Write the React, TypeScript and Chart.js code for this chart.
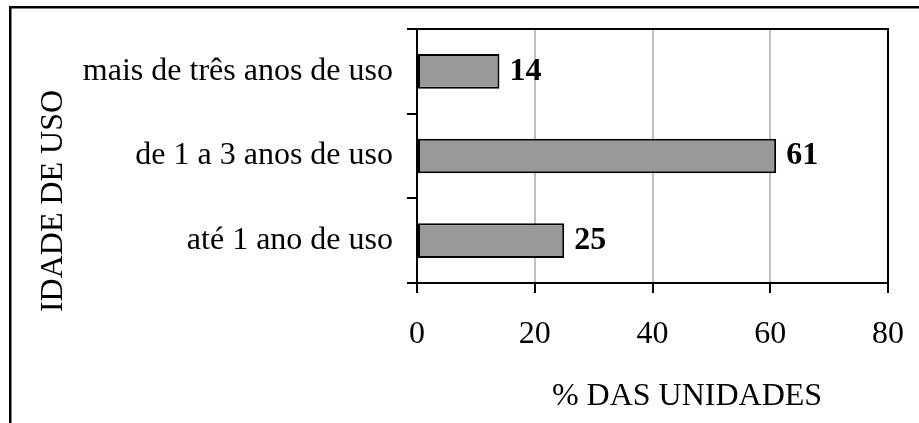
import React, { useEffect, useRef } from "react";
import { Chart, registerables } from "chart.js";

Chart.register(...registerables);

const categories: string[] = ["mais de três anos de uso", "de 1 a 3 anos de uso", "até 1 ano de uso"];
const values: number[] = [14, 61, 25];
const xTicks: number[] = [0, 20, 40, 60, 80];
const xTitle = "% DAS UNIDADES";
const yTitle = "IDADE DE USO";

const FONT = "'Liberation Serif', 'Times New Roman', serif";
const FS = 32;

const framePlugin = {
  id: "frame",
  beforeDraw(chart: any) {
    const ctx = chart.ctx;
    ctx.save();
    ctx.fillStyle = "#fff";
    ctx.fillRect(0, 0, chart.width, chart.height);
    ctx.fillStyle = "#000";
    ctx.fillRect(9, 6, chart.width - 9, 2.5);
    ctx.fillRect(9, 6, 2.5, chart.height - 6);
    ctx.restore();
  },
  afterDraw(chart: any) {
    const { ctx, chartArea } = chart;
    ctx.save();
    ctx.strokeStyle = "#000";
    ctx.lineWidth = 2;
    ctx.beginPath();
    ctx.moveTo(chartArea.left, chartArea.top);
    ctx.lineTo(chartArea.right, chartArea.top);
    ctx.lineTo(chartArea.right, chartArea.bottom);
    ctx.stroke();
    // axis titles
    ctx.fillStyle = "#000";
    ctx.font = `${FS}px ${FONT}`;
    ctx.textBaseline = "alphabetic";
    ctx.textAlign = "center";
    ctx.fillText(xTitle, 687, 405);
    ctx.translate(62, 201);
    ctx.rotate(-Math.PI / 2);
    ctx.fillText(yTitle, 0, 0);
    ctx.restore();
  },
};

const valueLabelPlugin = {
  id: "valueLabels",
  afterDatasetsDraw(chart: any) {
    const ctx = chart.ctx;
    const meta = chart.getDatasetMeta(0);
    ctx.save();
    ctx.fillStyle = "#000";
    ctx.font = `bold ${FS}px ${FONT}`;
    ctx.textAlign = "left";
    ctx.textBaseline = "middle";
    meta.data.forEach((el: any, i: number) => {
      ctx.fillText(String(chart.data.datasets[0].data[i]), el.x + 10, el.y);
    });
    ctx.restore();
  },
};

function zeroPad(scale: any) {
  scale.paddingLeft = 0;
  scale.paddingRight = 0;
  scale.paddingTop = 0;
  scale.paddingBottom = 0;
}

export default function App() {
  const ref = useRef<HTMLCanvasElement | null>(null);
  useEffect(() => {
    document.body.style.margin = "0";
    if (!ref.current) return;
    const chart = new Chart(ref.current, {
      type: "bar",
      data: {
        labels: categories,
        datasets: [
          {
            data: values,
            backgroundColor: "#999999",
            borderColor: "#000000",
            borderWidth: 2,
            borderSkipped: false,
            categoryPercentage: 1,
            barPercentage: 0.41,
          },
        ],
      },
      options: {
        indexAxis: "y",
        animation: false,
        responsive: false,
        devicePixelRatio: 1,
        layout: { padding: { left: 10, right: 31, top: 29, bottom: 0 } },
        plugins: { legend: { display: false }, tooltip: { enabled: false } },
        scales: {
          x: {
            min: 0,
            max: 80,
            afterFit(scale: any) {
              scale.height = 140;
              zeroPad(scale);
            },
            afterBuildTicks(scale: any) {
              scale.ticks = xTicks.map((v) => ({ value: v }));
            },
            ticks: {
              stepSize: 20,
              color: "#000",
              padding: 22,
              font: { family: FONT, size: FS },
            },
            grid: {
              color: "#c0c0c0",
              lineWidth: 2,
              tickColor: "#000",
              tickWidth: 2,
              tickLength: 10,
            },
            border: { color: "#000", width: 2 },
            title: { display: false },
          },
          y: {
            afterFit(scale: any) {
              scale.width = 407;
              zeroPad(scale);
            },
            ticks: {
              color: "#000",
              padding: 14,
              font: { family: FONT, size: FS },
            },
            grid: {
              drawOnChartArea: false,
              color: "#000",
              lineWidth: 2,
              tickLength: 10,
              offset: true,
            },
            border: { color: "#000", width: 2 },
            title: { display: false },
          },
        },
      },
      plugins: [framePlugin, valueLabelPlugin],
    });
    return () => chart.destroy();
  }, []);
  return (
    <div style={{ width: 919, height: 423 }}>
      <canvas ref={ref} width={919} height={423} style={{ display: "block" }} />
    </div>
  );
}
